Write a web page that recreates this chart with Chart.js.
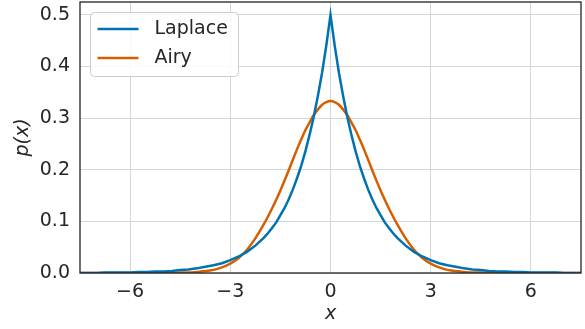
<!DOCTYPE html>
<html>
<head>
<meta charset="utf-8">
<script src="https://cdn.jsdelivr.net/npm/chart.js@4/dist/chart.umd.min.js"></script>
<style>
  html, body { margin: 0; padding: 0; background: #ffffff; }
  #wrap { width: 585px; height: 329px; position: relative; }
</style>
</head>
<body>
<div id="wrap"><canvas id="c" width="585" height="329"></canvas></div>
<script>
// ---- data ----
const xValues = [
  -7.5,-7.25,-7,-6.75,-6.5,-6.25,-6,-5.75,-5.5,-5.25,-5,-4.75,-4.5,-4.25,-4,-3.75,-3.5,-3.25,-3,-2.75,-2.5,-2.25,
  -2,-1.875,-1.75,-1.625,-1.5,-1.375,-1.25,-1.125,-1,-0.875,-0.75,-0.625,-0.5,-0.375,-0.25,-0.125,
  0,
  0.125,0.25,0.375,0.5,0.625,0.75,0.875,1,1.125,1.25,1.375,1.5,1.625,1.75,1.875,2,
  2.25,2.5,2.75,3,3.25,3.5,3.75,4,4.25,4.5,4.75,5,5.25,5.5,5.75,6,6.25,6.5,6.75,7,7.25,7.5
];
const laplaceValues = [
  0.000,0.000,0.000,0.001,0.001,0.001,0.001,0.002,0.002,0.003,0.003,0.004,0.006,0.007,0.009,0.012,0.015,0.019,0.025,0.032,0.041,0.053,
  0.068,0.077,0.087,0.098,0.112,0.126,0.143,0.162,0.184,0.208,0.236,0.268,0.303,0.344,0.389,0.441,
  0.500,
  0.441,0.389,0.344,0.303,0.268,0.236,0.208,0.184,0.162,0.143,0.126,0.112,0.098,0.087,0.077,0.068,
  0.053,0.041,0.032,0.025,0.019,0.015,0.012,0.009,0.007,0.006,0.004,0.003,0.003,0.002,0.002,0.001,0.001,0.001,0.001,0.000,0.000,0.000
];
const airyValues = [
  0.000,0.000,0.000,0.000,0.000,0.000,0.000,0.000,0.000,0.000,0.000,0.000,0.001,0.001,0.002,0.004,0.006,0.011,0.018,0.029,0.045,0.067,
  0.094,0.109,0.125,0.142,0.160,0.179,0.199,0.220,0.240,0.259,0.277,0.292,0.306,0.317,0.326,0.331,
  0.333,
  0.331,0.326,0.317,0.306,0.292,0.277,0.259,0.240,0.220,0.199,0.179,0.160,0.142,0.125,0.109,0.094,
  0.067,0.045,0.029,0.018,0.011,0.006,0.004,0.002,0.001,0.001,0.000,0.000,0.000,0.000,0.000,0.000,0.000,0.000,0.000,0.000,0.000,0.000
];
const seriesNames = ['Laplace', 'Airy'];
const xTicks = [-6, -3, 0, 3, 6];
const yTicks = [0.0, 0.1, 0.2, 0.3, 0.4, 0.5];
const xLabel = 'x';
const yLabel = 'p(x)';

// ---- styling ----
const FONT = '"DejaVu Sans", "Liberation Sans", sans-serif';
const TEXT = '#262626';
const colors = ['#0072B2', '#D55E00'];

function pts(ys) { return xValues.map((x, i) => ({x: x, y: ys[i]})); }
function fmtX(v) { return (v < 0 ? '\u2212' : '') + Math.abs(v); }

const frame = {
  id: 'frame',
  afterDatasetsDraw(chart) {
    const {ctx, chartArea: a} = chart;
    ctx.save();
    ctx.strokeStyle = '#222222';
    ctx.lineWidth = 1.3;
    ctx.strokeRect(a.left, a.top, a.right - a.left, a.bottom - a.top);
    ctx.restore();
  }
};

const legendBox = {
  id: 'legendBox',
  afterDraw(chart) {
    const {ctx, chartArea: a} = chart;
    const bx = a.left + 10.5, by = a.top + 10.5, bw = 148, bh = 64;
    ctx.save();
    ctx.beginPath();
    ctx.roundRect(bx, by, bw, bh, 4);
    ctx.fillStyle = 'rgba(255,255,255,0.85)';
    ctx.fill();
    ctx.strokeStyle = '#cccccc';
    ctx.lineWidth = 1;
    ctx.stroke();
    chart.data.datasets.forEach((ds, i) => {
      const y = by + 16.5 + i * 29;
      ctx.beginPath();
      ctx.moveTo(bx + 7, y);
      ctx.lineTo(bx + 48, y);
      ctx.strokeStyle = ds.borderColor;
      ctx.lineWidth = 2.5;
      ctx.stroke();
      ctx.fillStyle = TEXT;
      ctx.font = '19px ' + FONT;
      ctx.textBaseline = 'middle';
      ctx.textAlign = 'left';
      ctx.fillText(ds.label, bx + 64, y);
    });
    ctx.restore();
  }
};

new Chart(document.getElementById('c'), {
  type: 'line',
  data: {
    datasets: [
      { label: seriesNames[0], data: pts(laplaceValues), borderColor: colors[0], borderWidth: 2.5,
        pointRadius: 0, tension: 0, fill: false },
      { label: seriesNames[1], data: pts(airyValues), borderColor: colors[1], borderWidth: 2.5,
        pointRadius: 0, cubicInterpolationMode: 'monotone', fill: false }
    ]
  },
  options: {
    responsive: false,
    animation: false,
    devicePixelRatio: 1,
    layout: { padding: { top: 2, right: 4, left: 0, bottom: 0 } },
    plugins: { legend: { display: false }, tooltip: { enabled: false } },
    scales: {
      x: {
        type: 'linear', min: -7.5, max: 7.5,
        afterBuildTicks(s) { s.ticks = xTicks.map(v => ({value: v})); },
        afterFit(s) { s.height = 56; s.paddingLeft = 0; s.paddingRight = 0; },
        grid: { color: '#d6d6d6', lineWidth: 1, drawTicks: false },
        border: { display: false },
        ticks: { color: TEXT, padding: 8, font: { family: FONT, size: 19 },
                 maxRotation: 0, callback: v => fmtX(v) },
        title: { display: true, text: xLabel, color: TEXT,
                 font: { family: FONT, size: 19, style: 'italic' }, padding: { top: 0, bottom: 4 } }
      },
      y: {
        type: 'linear', min: 0, max: 0.525,
        afterBuildTicks(s) { s.ticks = yTicks.map(v => ({value: v})); },
        afterFit(s) { s.width = 80; s.paddingTop = 0; s.paddingBottom = 0; },
        grid: { color: '#d6d6d6', lineWidth: 1, drawTicks: false },
        border: { display: false },
        ticks: { color: TEXT, padding: 10, font: { family: FONT, size: 19 },
                 callback: v => Number(v).toFixed(1) },
        title: { display: true, text: yLabel, color: TEXT,
                 font: { family: FONT, size: 19, style: 'italic' }, padding: { top: 12, bottom: 0 } }
      }
    }
  },
  plugins: [frame, legendBox]
});
</script>
</body>
</html>
